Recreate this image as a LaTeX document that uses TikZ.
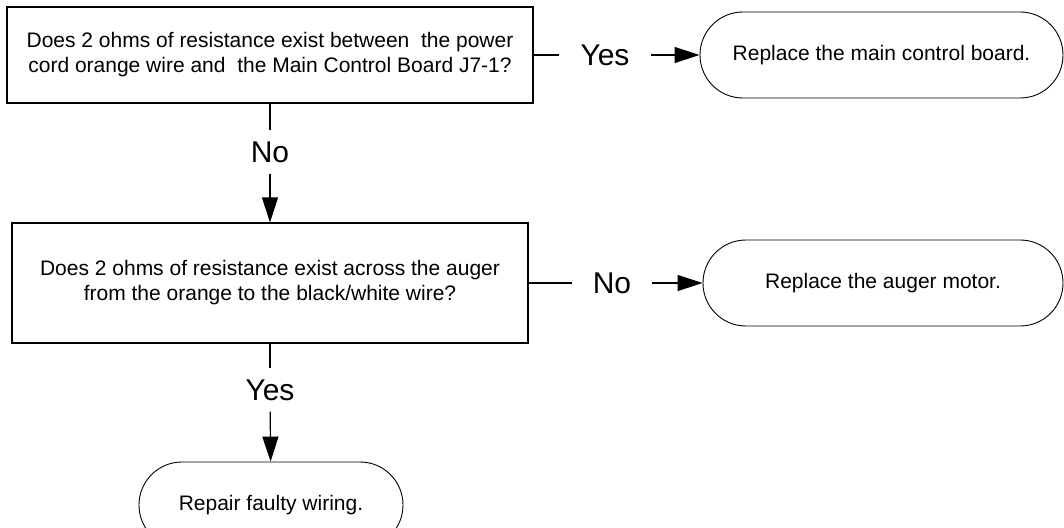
\documentclass[tikz,border=0pt]{standalone}
\usepackage{fontspec}
\setmainfont{Liberation Sans}
\usetikzlibrary{arrows.meta, positioning}

\tikzset{
    question/.style={draw, line width=1.1pt, align=center, inner sep=0pt,
        font=\fontsize{21}{25}\selectfont},
    terminal/.style={draw, line width=0.9pt, rounded corners=42.9pt,
        minimum height=86pt, font=\fontsize{21}{25}\selectfont},
    answer/.style={inner xsep=21pt, inner ysep=11pt, font=\fontsize{30}{35}\selectfont},
    link/.style={line width=1.2pt}
}

\begin{document}
\begin{tikzpicture}[x=1pt, y=-1pt, >={Triangle[length=25pt, width=16pt]}]
    \useasboundingbox (0,0) rectangle (1064,527);
    \clip (0,0) rectangle (1064,527);

    % 1. Questions
    \node[question, minimum width=526pt, minimum height=96pt] (q1) at (270,55)
        {Does 2 ohms of resistance exist between\ \ the power\\cord orange wire and\ \ the Main Control Board J7-1?};
    \node[question, minimum width=516pt, minimum height=120pt] (q2) at (270,283)
        {Does 2 ohms of resistance exist across the auger\\from the orange to the black/white wire?};

    % 2. Results
    \node[terminal, minimum width=363pt] (r1) at (881.5,55) {Replace the main control board.};
    \node[terminal, minimum width=360pt] (r2) at (883,283) {Replace the auger motor.};
    \node[terminal, minimum width=264pt] (r3) at (271,505) {Repair faulty wiring.};

    % 3. Answers
    \node[answer] (yes1) at (605,55) {Yes};
    \node[answer] (no1) at (270,152) {No};
    \node[answer] (no2) at (612,283) {No};
    \node[answer] (yes2) at (270,390) {Yes};

    % 4. Connectors
    \draw[link] (q1) -- (yes1);
    \draw[link, ->] (yes1) -- (r1);
    \draw[link] (q1) -- (no1);
    \draw[link, ->] (no1) -- (q2);
    \draw[link] (q2) -- (no2);
    \draw[link, ->] (no2) -- (r2);
    \draw[link] (q2) -- (yes2);
    \draw[link, ->] (yes2) -- (r3);
\end{tikzpicture}
\end{document}
